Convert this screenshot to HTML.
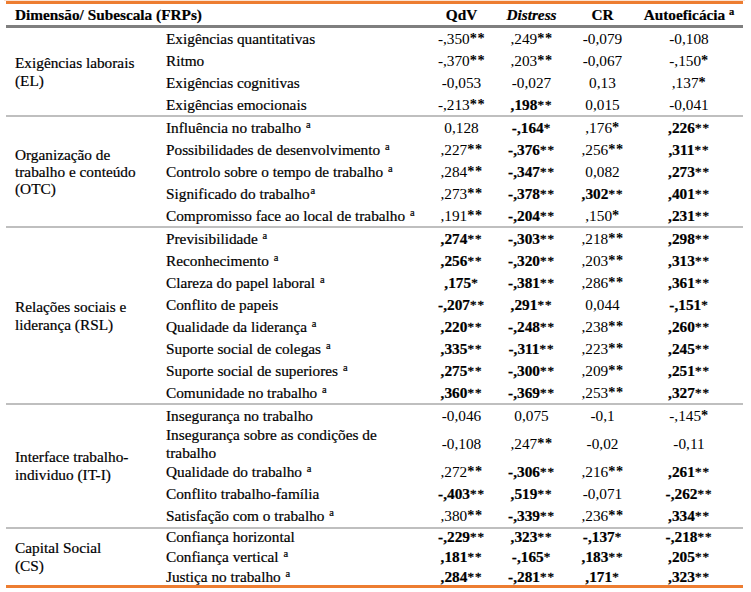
<!DOCTYPE html>
<html><head><meta charset="utf-8"><style>
html,body{margin:0;padding:0;background:#fff;}
body{width:751px;height:592px;position:relative;overflow:hidden;}
.t{position:absolute;white-space:nowrap;font-family:"Liberation Serif",serif;font-size:15.3px;line-height:20px;color:#000;-webkit-text-stroke:0.2px #000;}
.c{width:120px;text-align:center;}
.b{font-weight:bold;}
.i{font-style:italic;}
.n{-webkit-text-stroke:0;}
.n b{-webkit-text-stroke:0.2px #000;}
.ab{font-weight:bold;font-size:14.3px;position:relative;top:-1px;letter-spacing:0.5px;}
.ar{font-weight:normal;font-size:13px;letter-spacing:1px;-webkit-text-stroke:0.35px #000;position:relative;top:-1.5px;}
.s{font-size:10.5px;position:relative;top:-5px;font-weight:normal;margin-left:1px;}
.sh{font-size:10.5px;position:relative;top:-5px;}
.ln{position:absolute;left:6px;width:737px;}
</style></head><body>
<div class="t b" style="left:15px;top:5px">Dimensão/ Subescala (FRPs)</div>
<div class="t c b" style="left:401.5px;top:5px">QdV</div>
<div class="t c b i" style="left:471.5px;top:5px">Distress</div>
<div class="t c b" style="left:542.5px;top:5px">CR</div>
<div class="t c b" style="left:629px;top:5px">Autoeficácia <span class="sh">a</span></div>
<div class="t " style="left:166px;top:29px">Exigências quantitativas</div>
<div class="t c n" style="left:401.5px;top:29px">-,350<span class="ab">**</span></div>
<div class="t c n" style="left:471.5px;top:29px">,249<span class="ab">**</span></div>
<div class="t c n" style="left:542.5px;top:29px">-0,079</div>
<div class="t c n" style="left:629px;top:29px">-0,108</div>
<div class="t " style="left:166px;top:51px">Ritmo</div>
<div class="t c n" style="left:401.5px;top:51px">-,370<span class="ab">**</span></div>
<div class="t c n" style="left:471.5px;top:51px">,203<span class="ab">**</span></div>
<div class="t c n" style="left:542.5px;top:51px">-0,067</div>
<div class="t c n" style="left:629px;top:51px">-,150<span class="ab">*</span></div>
<div class="t " style="left:166px;top:73px">Exigências cognitivas</div>
<div class="t c n" style="left:401.5px;top:73px">-0,053</div>
<div class="t c n" style="left:471.5px;top:73px">-0,027</div>
<div class="t c n" style="left:542.5px;top:73px">0,13</div>
<div class="t c n" style="left:629px;top:73px">,137<span class="ab">*</span></div>
<div class="t " style="left:166px;top:95px">Exigências emocionais</div>
<div class="t c n" style="left:401.5px;top:95px">-,213<span class="ab">**</span></div>
<div class="t c n" style="left:471.5px;top:95px"><b>,198</b><span class="ar">**</span></div>
<div class="t c n" style="left:542.5px;top:95px">0,015</div>
<div class="t c n" style="left:629px;top:95px">-0,041</div>
<div class="t " style="left:166px;top:118px">Influência no trabalho <span class="s">a</span></div>
<div class="t c n" style="left:401.5px;top:118px">0,128</div>
<div class="t c n" style="left:471.5px;top:118px"><b>-,164</b><span class="ar">*</span></div>
<div class="t c n" style="left:542.5px;top:118px">,176<span class="ab">*</span></div>
<div class="t c n" style="left:629px;top:118px"><b>,226</b><span class="ar">**</span></div>
<div class="t " style="left:166px;top:140px">Possibilidades de desenvolvimento <span class="s">a</span></div>
<div class="t c n" style="left:401.5px;top:140px">,227<span class="ab">**</span></div>
<div class="t c n" style="left:471.5px;top:140px"><b>-,376</b><span class="ar">**</span></div>
<div class="t c n" style="left:542.5px;top:140px">,256<span class="ab">**</span></div>
<div class="t c n" style="left:629px;top:140px"><b>,311</b><span class="ar">**</span></div>
<div class="t " style="left:166px;top:162px">Controlo sobre o tempo de trabalho <span class="s">a</span></div>
<div class="t c n" style="left:401.5px;top:162px">,284<span class="ab">**</span></div>
<div class="t c n" style="left:471.5px;top:162px"><b>-,347</b><span class="ar">**</span></div>
<div class="t c n" style="left:542.5px;top:162px">0,082</div>
<div class="t c n" style="left:629px;top:162px"><b>,273</b><span class="ar">**</span></div>
<div class="t " style="left:166px;top:184px">Significado do trabalho<span class="s">a</span></div>
<div class="t c n" style="left:401.5px;top:184px">,273<span class="ab">**</span></div>
<div class="t c n" style="left:471.5px;top:184px"><b>-,378</b><span class="ar">**</span></div>
<div class="t c n" style="left:542.5px;top:184px"><b>,302</b><span class="ar">**</span></div>
<div class="t c n" style="left:629px;top:184px"><b>,401</b><span class="ar">**</span></div>
<div class="t " style="left:166px;top:206px">Compromisso face ao local de trabalho <span class="s">a</span></div>
<div class="t c n" style="left:401.5px;top:206px">,191<span class="ab">**</span></div>
<div class="t c n" style="left:471.5px;top:206px"><b>-,204</b><span class="ar">**</span></div>
<div class="t c n" style="left:542.5px;top:206px">,150<span class="ab">*</span></div>
<div class="t c n" style="left:629px;top:206px"><b>,231</b><span class="ar">**</span></div>
<div class="t " style="left:166px;top:229px">Previsibilidade <span class="s">a</span></div>
<div class="t c n" style="left:401.5px;top:229px"><b>,274</b><span class="ar">**</span></div>
<div class="t c n" style="left:471.5px;top:229px"><b>-,303</b><span class="ar">**</span></div>
<div class="t c n" style="left:542.5px;top:229px">,218<span class="ab">**</span></div>
<div class="t c n" style="left:629px;top:229px"><b>,298</b><span class="ar">**</span></div>
<div class="t " style="left:166px;top:251px">Reconhecimento <span class="s">a</span></div>
<div class="t c n" style="left:401.5px;top:251px"><b>,256</b><span class="ar">**</span></div>
<div class="t c n" style="left:471.5px;top:251px"><b>-,320</b><span class="ar">**</span></div>
<div class="t c n" style="left:542.5px;top:251px">,203<span class="ab">**</span></div>
<div class="t c n" style="left:629px;top:251px"><b>,313</b><span class="ar">**</span></div>
<div class="t " style="left:166px;top:273px">Clareza do papel laboral <span class="s">a</span></div>
<div class="t c n" style="left:401.5px;top:273px"><b>,175</b><span class="ar">*</span></div>
<div class="t c n" style="left:471.5px;top:273px"><b>-,381</b><span class="ar">**</span></div>
<div class="t c n" style="left:542.5px;top:273px">,286<span class="ab">**</span></div>
<div class="t c n" style="left:629px;top:273px"><b>,361</b><span class="ar">**</span></div>
<div class="t " style="left:166px;top:295px">Conflito de papeis</div>
<div class="t c n" style="left:401.5px;top:295px"><b>-,207</b><span class="ar">**</span></div>
<div class="t c n" style="left:471.5px;top:295px"><b>,291</b><span class="ar">**</span></div>
<div class="t c n" style="left:542.5px;top:295px">0,044</div>
<div class="t c n" style="left:629px;top:295px"><b>-,151</b><span class="ar">*</span></div>
<div class="t " style="left:166px;top:317px">Qualidade da liderança <span class="s">a</span></div>
<div class="t c n" style="left:401.5px;top:317px"><b>,220</b><span class="ar">**</span></div>
<div class="t c n" style="left:471.5px;top:317px"><b>-,248</b><span class="ar">**</span></div>
<div class="t c n" style="left:542.5px;top:317px">,238<span class="ab">**</span></div>
<div class="t c n" style="left:629px;top:317px"><b>,260</b><span class="ar">**</span></div>
<div class="t " style="left:166px;top:339px">Suporte social de colegas <span class="s">a</span></div>
<div class="t c n" style="left:401.5px;top:339px"><b>,335</b><span class="ar">**</span></div>
<div class="t c n" style="left:471.5px;top:339px"><b>-,311</b><span class="ar">**</span></div>
<div class="t c n" style="left:542.5px;top:339px">,223<span class="ab">**</span></div>
<div class="t c n" style="left:629px;top:339px"><b>,245</b><span class="ar">**</span></div>
<div class="t " style="left:166px;top:361px">Suporte social de superiores <span class="s">a</span></div>
<div class="t c n" style="left:401.5px;top:361px"><b>,275</b><span class="ar">**</span></div>
<div class="t c n" style="left:471.5px;top:361px"><b>-,300</b><span class="ar">**</span></div>
<div class="t c n" style="left:542.5px;top:361px">,209<span class="ab">**</span></div>
<div class="t c n" style="left:629px;top:361px"><b>,251</b><span class="ar">**</span></div>
<div class="t " style="left:166px;top:383px">Comunidade no trabalho <span class="s">a</span></div>
<div class="t c n" style="left:401.5px;top:383px"><b>,360</b><span class="ar">**</span></div>
<div class="t c n" style="left:471.5px;top:383px"><b>-,369</b><span class="ar">**</span></div>
<div class="t c n" style="left:542.5px;top:383px">,253<span class="ab">**</span></div>
<div class="t c n" style="left:629px;top:383px"><b>,327</b><span class="ar">**</span></div>
<div class="t " style="left:166px;top:406px">Insegurança no trabalho</div>
<div class="t c n" style="left:401.5px;top:406px">-0,046</div>
<div class="t c n" style="left:471.5px;top:406px">0,075</div>
<div class="t c n" style="left:542.5px;top:406px">-0,1</div>
<div class="t c n" style="left:629px;top:406px">-,145<span class="ab">*</span></div>
<div class="t c n" style="left:401.5px;top:434px">-0,108</div>
<div class="t c n" style="left:471.5px;top:434px">,247<span class="ab">**</span></div>
<div class="t c n" style="left:542.5px;top:434px">-0,02</div>
<div class="t c n" style="left:629px;top:434px">-0,11</div>
<div class="t " style="left:166px;top:462px">Qualidade do trabalho <span class="s">a</span></div>
<div class="t c n" style="left:401.5px;top:462px">,272<span class="ab">**</span></div>
<div class="t c n" style="left:471.5px;top:462px"><b>-,306</b><span class="ar">**</span></div>
<div class="t c n" style="left:542.5px;top:462px">,216<span class="ab">**</span></div>
<div class="t c n" style="left:629px;top:462px"><b>,261</b><span class="ar">**</span></div>
<div class="t " style="left:166px;top:484px">Conflito trabalho-família</div>
<div class="t c n" style="left:401.5px;top:484px"><b>-,403</b><span class="ar">**</span></div>
<div class="t c n" style="left:471.5px;top:484px"><b>,519</b><span class="ar">**</span></div>
<div class="t c n" style="left:542.5px;top:484px">-0,071</div>
<div class="t c n" style="left:629px;top:484px"><b>-,262</b><span class="ar">**</span></div>
<div class="t " style="left:166px;top:506px">Satisfação com o trabalho <span class="s">a</span></div>
<div class="t c n" style="left:401.5px;top:506px">,380<span class="ab">**</span></div>
<div class="t c n" style="left:471.5px;top:506px"><b>-,339</b><span class="ar">**</span></div>
<div class="t c n" style="left:542.5px;top:506px">,236<span class="ab">**</span></div>
<div class="t c n" style="left:629px;top:506px"><b>,334</b><span class="ar">**</span></div>
<div class="t " style="left:166px;top:527px">Confiança horizontal</div>
<div class="t c n" style="left:401.5px;top:527px"><b>-,229</b><span class="ar">**</span></div>
<div class="t c n" style="left:471.5px;top:527px"><b>,323</b><span class="ar">**</span></div>
<div class="t c n" style="left:542.5px;top:527px"><b>-,137</b><span class="ar">*</span></div>
<div class="t c n" style="left:629px;top:527px"><b>-,218</b><span class="ar">**</span></div>
<div class="t " style="left:166px;top:547px">Confiança vertical <span class="s">a</span></div>
<div class="t c n" style="left:401.5px;top:547px"><b>,181</b><span class="ar">**</span></div>
<div class="t c n" style="left:471.5px;top:547px"><b>-,165</b><span class="ar">*</span></div>
<div class="t c n" style="left:542.5px;top:547px"><b>,183</b><span class="ar">**</span></div>
<div class="t c n" style="left:629px;top:547px"><b>,205</b><span class="ar">**</span></div>
<div class="t " style="left:166px;top:567px">Justiça no trabalho <span class="s">a</span></div>
<div class="t c n" style="left:401.5px;top:567px"><b>,284</b><span class="ar">**</span></div>
<div class="t c n" style="left:471.5px;top:567px"><b>-,281</b><span class="ar">**</span></div>
<div class="t c n" style="left:542.5px;top:567px"><b>,171</b><span class="ar">*</span></div>
<div class="t c n" style="left:629px;top:567px"><b>,323</b><span class="ar">**</span></div>
<div class="t " style="left:166px;top:425px">Insegurança sobre as condições de</div>
<div class="t " style="left:166px;top:442.5px">trabalho</div>
<div class="t " style="left:15px;top:53px">Exigências laborais</div>
<div class="t " style="left:15px;top:71px">(EL)</div>
<div class="t " style="left:15px;top:145px">Organização de</div>
<div class="t " style="left:15px;top:162px">trabalho e conteúdo</div>
<div class="t " style="left:15px;top:179px">(OTC)</div>
<div class="t " style="left:15px;top:297px">Relações sociais e</div>
<div class="t " style="left:15px;top:315px">liderança (RSL)</div>
<div class="t " style="left:15px;top:447px">Interface trabalho-</div>
<div class="t " style="left:15px;top:464.5px">individuo (IT-I)</div>
<div class="t " style="left:15px;top:538px">Capital Social</div>
<div class="t " style="left:15px;top:556px">(CS)</div>
<div style="position:absolute;left:4px;width:741px;top:0;height:1px;background:#fbe3d3"></div>
<div class="ln" style="top:1px;height:3px;background:#ed7d31"></div>
<div class="ln" style="top:25px;height:3px;background:#7f7f7f"></div>
<div class="ln" style="top:115px;height:2px;background:#bfbfbf"></div>
<div class="ln" style="top:226px;height:2px;background:#bfbfbf"></div>
<div class="ln" style="top:403px;height:2px;background:#bfbfbf"></div>
<div class="ln" style="top:527px;height:2px;background:#bfbfbf"></div>
<div class="ln" style="top:585px;height:3px;background:#ed7d31"></div>
</body></html>
